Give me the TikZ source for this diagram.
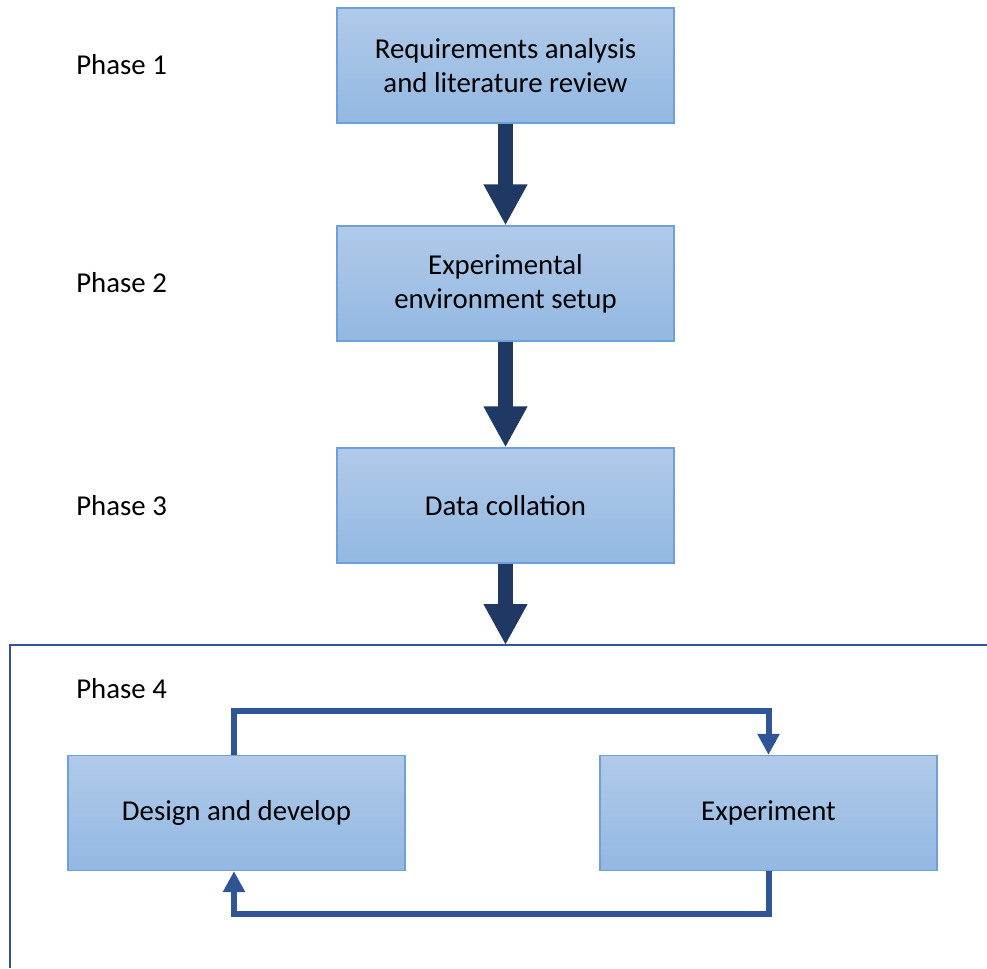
\documentclass[tikz,border=0pt]{standalone}
\usepackage{fontspec}
\setmainfont{Carlito}
\usepackage{tikz}
\usetikzlibrary{arrows.meta,positioning}

\definecolor{boxtop}{RGB}{176,202,233}
\definecolor{boxbot}{RGB}{147,184,226}
\definecolor{boxline}{RGB}{112,160,216}
\definecolor{navy}{RGB}{31,56,100}
\definecolor{loopblue}{RGB}{47,85,151}

\tikzset{
  phasebox/.style={rectangle, draw=boxline, line width=0.7pt, top color=boxtop, bottom color=boxbot,
    minimum width=6.74cm, minimum height=2.3cm, inner sep=0pt, align=center, font=\fontsize{16.4}{19.3}\selectfont},
  phaselabel/.style={anchor=west, inner sep=0pt, font=\fontsize{16.4}{19.3}\selectfont},
  bigarrow/.style={draw=navy, line width=0.3cm, -{Triangle[width=0.82cm,length=0.82cm]}},
  looparrow/.style={draw=loopblue, line width=0.12cm, -{Triangle[width=0.42cm,length=0.42cm]}}
}

\begin{document}
\begin{tikzpicture}[x=0.02cm, y=-0.02cm]
  \useasboundingbox (0,0) rectangle (987,968);

  % Phase 1-3
  \node[phasebox] (req)  at (505.5,65.5)  {Requirements analysis\\and literature review};
  \node[phasebox] (env)  at (505.5,283.5) {Experimental\\environment setup};
  \node[phasebox] (coll) at (505.5,505.5) {Data collation};

  \node[phaselabel] (ph1) at (76,65)  {Phase 1};
  \node[phaselabel] (ph2) at (76,283) {Phase 2};
  \node[phaselabel] (ph3) at (76,506) {Phase 3};

  % Phase 4 frame
  \coordinate (frametop) at (505.5,645);
  \draw[draw=loopblue, line width=0.04cm] (987,645) -- (10,645) -- (10,968);
  \node[phaselabel] (ph4) at (76,689) {Phase 4};

  \node[phasebox] (design) at (236.5,813) {Design and develop};
  \node[phasebox] (expt)   at (768.5,813) {Experiment};

  % arrows
  \draw[bigarrow] (req.south) -- (env.north);
  \draw[bigarrow] (env.south) -- (coll.north);
  \draw[bigarrow] (coll.south) -- (frametop);

  \draw[looparrow] ([xshift=-0.05cm]design.north) -- ++(0,-44) -| (expt.north);
  \draw[looparrow] (expt.south) -- ++(0,43) -| ([xshift=-0.05cm]design.south);
\end{tikzpicture}
\end{document}
